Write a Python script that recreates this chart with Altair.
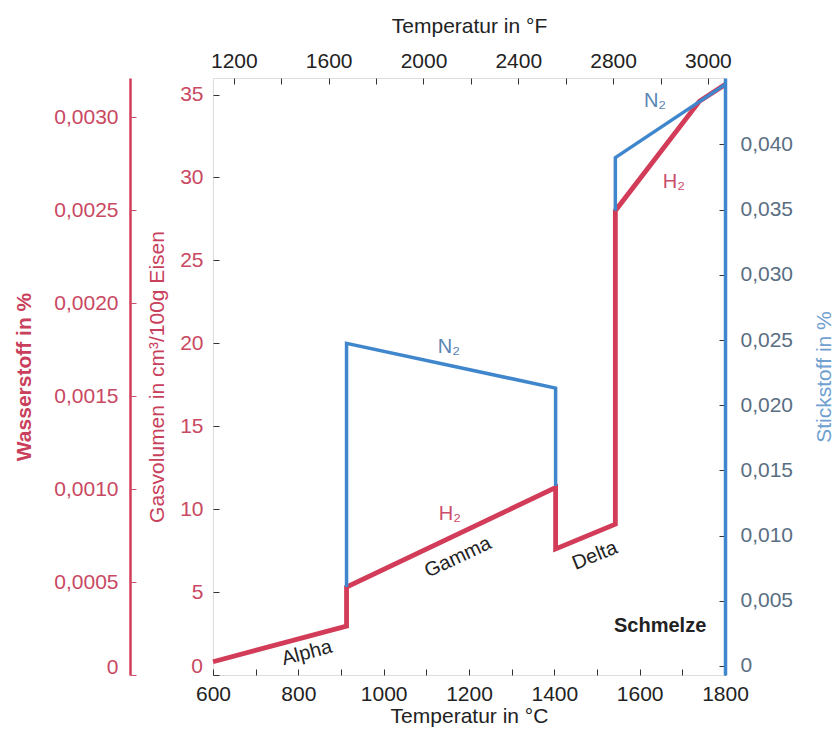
import altair as alt
import pandas as pd

# Colours
RED = "#d23c58"
RED_TEXT = "#c94862"
BLUE = "#3f86cc"
BLUE_TEXT = "#5a6e82"
BLUE_TITLE = "#6fa0d0"
DARK = "#222222"
FONT = "Liberation Sans"

# Plot area in pixels
W, H = 512, 597

# Temperature ranges (°C along the bottom, same span in °F on top)
t_domain = [600, 1800]
f_domain = [1112, 3272]

# Gas volume in cm³/100 g iron
vol_domain = [0, 36]
vol_ticks = [0, 5, 10, 15, 20, 25, 30, 35]

# Hydrogen in % (outer left scale) and nitrogen in % (right scale)
h_pct_domain = [0, 0.00321]
h_pct_ticks = [0, 0.0005, 0.0010, 0.0015, 0.0020, 0.0025, 0.0030]
n_pct_domain = [-0.0007, 0.0451]
n_pct_ticks = [0, 0.005, 0.010, 0.015, 0.020, 0.025, 0.030, 0.035, 0.040]

c_ticks = list(range(600, 1801, 100))
f_ticks = list(range(1200, 3201, 200))

# H2 solubility path
h2_temp = [600, 913, 913, 1403, 1403, 1543, 1543, 1740, 1800]
h2_vol = [0.8, 2.95, 5.3, 11.3, 7.6, 9.1, 28.0, 34.6, 35.6]

# N2 solubility path, two separate pieces
n2_temp = [913, 913, 1403, 1403, 1543, 1543, 1800]
n2_vol = [5.3, 20.0, 17.3, 11.4, 28.0, 31.2, 35.6]
n2_piece = [1, 1, 1, 1, 2, 2, 2]

# Annotations: text, temperature, volume, angle, colour, weight
notes_text = ["N₂", "N₂", "H₂", "H₂", "Alpha", "Gamma", "Delta", "Schmelze"]
notes_temp = [1153, 1636, 1155, 1680, 820, 1174, 1495, 1648]
notes_vol = [19.8, 34.6, 9.7, 29.7, 1.33, 7.1, 7.2, 2.95]
notes_angle = [0, 0, 0, 0, 345, 335, 338, 0]
notes_color = ["#5a85b5", "#5a85b5", "#cc4d6a", "#cc4d6a", DARK, DARK, DARK, DARK]
notes_weight = ["normal"] * 7 + ["bold"]

h2 = pd.DataFrame({"temp": h2_temp, "vol": h2_vol, "idx": range(len(h2_temp))})
n2 = pd.DataFrame({"temp": n2_temp, "vol": n2_vol, "piece": n2_piece,
                   "idx": range(len(n2_temp))})

x_c = alt.Scale(domain=t_domain, nice=False, zero=False)
y_v = alt.Scale(domain=vol_domain, nice=False, zero=False)

label_common = dict(labelFont=FONT, labelFontSize=21, titleFont=FONT,
                    titleFontSize=21, titleFontWeight="normal", grid=False,
                    labelOverlap=False, labelBound=False)

# the zero labels sit a little above their tick, clear of the °C labels
zero_up = {"condition": {"test": "datum.value == 0", "value": -8}, "value": 0}

# Main layer: H2 line carrying the °C axis and the gas-volume axis (5 … 35)
h2_line = alt.Chart(h2).mark_line(color=RED, strokeWidth=4.8, strokeJoin="miter").encode(
    x=alt.X("temp:Q", scale=x_c, axis=alt.Axis(
        orient="bottom", values=c_ticks, offset=-6, tickSize=6, domain=False,
        tickColor="#333", labelColor=DARK, labelFlush=False,
        labelPadding=8, labelExpr="datum.value % 200 == 0 ? toString(datum.value) : ''",
        title="Temperatur in °C", titleColor=DARK, titlePadding=1, **label_common)),
    y=alt.Y("vol:Q", scale=y_v, axis=alt.Axis(
        orient="left", values=vol_ticks, offset=-6, tickSize=6, domain=False,
        tickColor="#333", labelColor=RED_TEXT, labelPadding=10,
        labelExpr="datum.value == 0 ? '' : toString(datum.value)",
        title="Gasvolumen in cm³/100g Eisen", titleColor="#c9405c", titlePadding=12,
        **label_common)),
    order=alt.Order("idx:Q"),
)

# zero label of the gas-volume axis, set just above its tick
zero_df = pd.DataFrame({"vol": [vol_ticks[0]], "s": [str(vol_ticks[0])]})
vol_zero = alt.Chart(zero_df).mark_text(
    font=FONT, fontSize=21, color=RED_TEXT, align="right", baseline="bottom",
    dy=2, clip=False
).encode(
    x=alt.value(-10),
    y=alt.Y("vol:Q", scale=y_v, axis=None),
    text="s:N",
)

n2_line = alt.Chart(n2).mark_line(color=BLUE, strokeWidth=3.5, strokeJoin="miter").encode(
    x=alt.X("temp:Q", scale=x_c, axis=None),
    y=alt.Y("vol:Q", scale=y_v, axis=None),
    detail="piece:N",
    order=alt.Order("idx:Q"),
)

note_layers = []
for i, txt in enumerate(notes_text):
    d = pd.DataFrame({"t": [notes_temp[i]], "v": [notes_vol[i]], "s": [txt]})
    note_layers.append(
        alt.Chart(d).mark_text(font=FONT, fontSize=20, angle=notes_angle[i],
                               color=notes_color[i], fontWeight=notes_weight[i],
                               align="center", baseline="middle").encode(
            x=alt.X("t:Q", scale=x_c, axis=None),
            y=alt.Y("v:Q", scale=y_v, axis=None),
            text="s:N",
        )
    )

# °F axis on top
f_df = pd.DataFrame({"f": f_ticks})
top_axis = alt.Chart(f_df).mark_point(opacity=0).encode(
    x=alt.X("f:Q", scale=alt.Scale(domain=f_domain, nice=False, zero=False), axis=alt.Axis(
        orient="top", values=f_ticks, offset=-6, tickSize=6, domain=False,
        tickColor="#333", labelColor=DARK, labelFlush=False,
        labelPadding=7,
        labelExpr="datum.value == 3200 ? '3000' : (datum.value % 400 == 0 ? toString(datum.value) : '')",
        title="Temperatur in °F", titleColor=DARK, titlePadding=14, **label_common)),
)

# Hydrogen % axis far left: red spine plus inward ticks
h_df = pd.DataFrame({"h": h_pct_ticks})
h_scale = alt.Scale(domain=h_pct_domain, nice=False, zero=False)
h_spine = alt.Chart(h_df).mark_point(opacity=0).encode(
    y=alt.Y("h:Q", scale=h_scale, axis=alt.Axis(
        orient="left", offset=83, domain=True, domainColor=RED, domainWidth=2.5,
        ticks=False, labels=False, title=None, grid=False)),
)
h_ticks = alt.Chart(h_df).mark_point(opacity=0).encode(
    y=alt.Y("h:Q", scale=h_scale, axis=alt.Axis(
        orient="left", offset=77, values=h_pct_ticks, domain=False, tickSize=6,
        tickColor="#c9506a", labelColor=RED_TEXT, labelPadding=12, labelOffset=zero_up,
        labelExpr="datum.value == 0 ? '0' : replace(format(datum.value, '.4f'), '.', ',')",
        title="Wasserstoff in %", titleColor="#c9405c", titlePadding=19,
        **{**label_common, "titleFontWeight": "bold"})),
)

# Nitrogen % axis on the right: blue spine plus inward ticks
n_df = pd.DataFrame({"n": n_pct_ticks})
n_scale = alt.Scale(domain=n_pct_domain, nice=False, zero=False)
n_spine = alt.Chart(n_df).mark_point(opacity=0).encode(
    y=alt.Y("n:Q", scale=n_scale, axis=alt.Axis(
        orient="right", offset=0, domain=True, domainColor=BLUE, domainWidth=3.5,
        ticks=False, labels=False, title=None, grid=False, zindex=1)),
)
n_ticks = alt.Chart(n_df).mark_point(opacity=0).encode(
    y=alt.Y("n:Q", scale=n_scale, axis=alt.Axis(
        orient="right", offset=-6, values=n_pct_ticks, domain=False, tickSize=6,
        tickColor="#333", labelColor=BLUE_TEXT, labelPadding=15,
        labelExpr="datum.value == 0 ? '0' : replace(format(datum.value, '.3f'), '.', ',')",
        title="Stickstoff in %", titleColor=BLUE_TITLE, titleAngle=270, titlePadding=42,
        **label_common)),
)

chart = alt.layer(
    h2_line, n2_line, *note_layers, vol_zero, top_axis, h_spine, h_ticks, n_spine, n_ticks
).resolve_scale(x="independent", y="independent").properties(
    width=W, height=H,
    autosize=alt.AutoSizeParams(type="none"),
    padding={"left": 213, "top": 78, "right": 110, "bottom": 58},
).configure_view(stroke="#333333", strokeWidth=1.2).configure(background="white")

chart.save("out.html", embed_options={"renderer": "svg", "actions": False})
